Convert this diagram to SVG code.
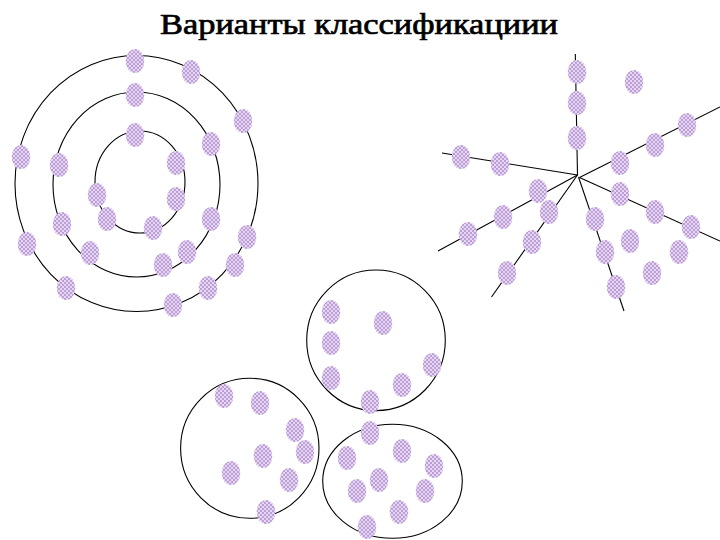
<svg xmlns="http://www.w3.org/2000/svg" xmlns:xlink="http://www.w3.org/1999/xlink" width="720" height="540" viewBox="0 0 720 540">
<style>
.ln{fill:none;stroke:#000;stroke-width:1.1}
</style>
<defs>
<pattern id="chk" patternUnits="userSpaceOnUse" width="4" height="4">
<rect width="4" height="4" fill="#e6d6f2"/>
<rect width="2" height="2" fill="#bd9fd8"/>
<rect x="2" y="2" width="2" height="2" fill="#bd9fd8"/>
</pattern>
<ellipse id="dot" cx="0" cy="0" rx="9.3" ry="12" fill="url(#chk)"/>
</defs>
<rect width="720" height="540" fill="#fff"/>
<text x="160" y="34" font-family="'Liberation Serif'" font-size="29" fill="#000" stroke="#000" stroke-width="0.7" textLength="398" lengthAdjust="spacingAndGlyphs">Варианты классификациии</text>

<g id="connectors">
<ellipse class="ln" cx="136.5" cy="183.5" rx="121.5" ry="128"/>
<ellipse class="ln" cx="136.5" cy="184.5" rx="83.5" ry="92.5"/>
<ellipse class="ln" cx="140" cy="182" rx="45" ry="51"/>
<line class="ln" x1="577.5" y1="175" x2="575.3" y2="54"/>
<line class="ln" x1="577.5" y1="175" x2="442" y2="153"/>
<line class="ln" x1="577.5" y1="175" x2="438" y2="251"/>
<line class="ln" x1="577.5" y1="175" x2="491.5" y2="297"/>
<line class="ln" x1="578.5" y1="177" x2="624" y2="311"/>
<line class="ln" x1="579.5" y1="177.5" x2="720" y2="241"/>
<line class="ln" x1="579.5" y1="177.5" x2="720" y2="107"/>
<ellipse class="ln" cx="376" cy="340.3" rx="69.3" ry="70.3"/>
<ellipse class="ln" cx="249.8" cy="448.3" rx="69.2" ry="70"/>
<ellipse class="ln" cx="392.5" cy="481.3" rx="69.8" ry="57"/>
</g>

<g id="rings">
<use xlink:href="#dot" x="135" y="61"/>
<use xlink:href="#dot" x="191" y="72"/>
<use xlink:href="#dot" x="243" y="121"/>
<use xlink:href="#dot" x="135" y="95"/>
<use xlink:href="#dot" x="211" y="144"/>
<use xlink:href="#dot" x="135" y="135"/>
<use xlink:href="#dot" x="176" y="163"/>
<use xlink:href="#dot" x="21" y="157"/>
<use xlink:href="#dot" x="59" y="165"/>
<use xlink:href="#dot" x="97" y="195"/>
<use xlink:href="#dot" x="176" y="199"/>
<use xlink:href="#dot" x="107" y="219"/>
<use xlink:href="#dot" x="153" y="228"/>
<use xlink:href="#dot" x="211" y="219"/>
<use xlink:href="#dot" x="62" y="224"/>
<use xlink:href="#dot" x="27" y="244"/>
<use xlink:href="#dot" x="247" y="237"/>
<use xlink:href="#dot" x="90" y="253"/>
<use xlink:href="#dot" x="187" y="252"/>
<use xlink:href="#dot" x="163" y="265"/>
<use xlink:href="#dot" x="235" y="265"/>
<use xlink:href="#dot" x="66" y="288"/>
<use xlink:href="#dot" x="208" y="288"/>
<use xlink:href="#dot" x="173" y="305"/>
</g>

<g id="star">
<use xlink:href="#dot" x="577" y="72"/>
<use xlink:href="#dot" x="634" y="82"/>
<use xlink:href="#dot" x="577" y="103"/>
<use xlink:href="#dot" x="687" y="125"/>
<use xlink:href="#dot" x="577" y="138"/>
<use xlink:href="#dot" x="655" y="145"/>
<use xlink:href="#dot" x="461" y="157"/>
<use xlink:href="#dot" x="500" y="164"/>
<use xlink:href="#dot" x="620" y="163"/>
<use xlink:href="#dot" x="538" y="191"/>
<use xlink:href="#dot" x="620" y="194"/>
<use xlink:href="#dot" x="549" y="212"/>
<use xlink:href="#dot" x="503" y="217"/>
<use xlink:href="#dot" x="655" y="212"/>
<use xlink:href="#dot" x="595" y="219"/>
<use xlink:href="#dot" x="691" y="227"/>
<use xlink:href="#dot" x="468" y="234"/>
<use xlink:href="#dot" x="630" y="241"/>
<use xlink:href="#dot" x="532" y="242"/>
<use xlink:href="#dot" x="679" y="252"/>
<use xlink:href="#dot" x="605" y="252"/>
<use xlink:href="#dot" x="652" y="273"/>
<use xlink:href="#dot" x="507" y="273"/>
<use xlink:href="#dot" x="616" y="287"/>
</g>

<g id="cluster-top">
<use xlink:href="#dot" x="331" y="312"/>
<use xlink:href="#dot" x="383" y="323"/>
<use xlink:href="#dot" x="331" y="343"/>
<use xlink:href="#dot" x="331" y="378"/>
<use xlink:href="#dot" x="432" y="365"/>
<use xlink:href="#dot" x="402" y="385"/>
<use xlink:href="#dot" x="370" y="402"/>
</g>

<g id="cluster-left">
<use xlink:href="#dot" x="224" y="396"/>
<use xlink:href="#dot" x="260" y="403"/>
<use xlink:href="#dot" x="295" y="430"/>
<use xlink:href="#dot" x="305" y="452"/>
<use xlink:href="#dot" x="263" y="456"/>
<use xlink:href="#dot" x="231" y="473"/>
<use xlink:href="#dot" x="289" y="480"/>
<use xlink:href="#dot" x="266" y="512"/>
</g>

<g id="cluster-right">
<use xlink:href="#dot" x="370" y="433"/>
<use xlink:href="#dot" x="402" y="451"/>
<use xlink:href="#dot" x="347" y="458"/>
<use xlink:href="#dot" x="434" y="466"/>
<use xlink:href="#dot" x="379" y="480"/>
<use xlink:href="#dot" x="357" y="491"/>
<use xlink:href="#dot" x="425" y="491"/>
<use xlink:href="#dot" x="399" y="512"/>
<use xlink:href="#dot" x="367" y="527"/>
</g>
</svg>
